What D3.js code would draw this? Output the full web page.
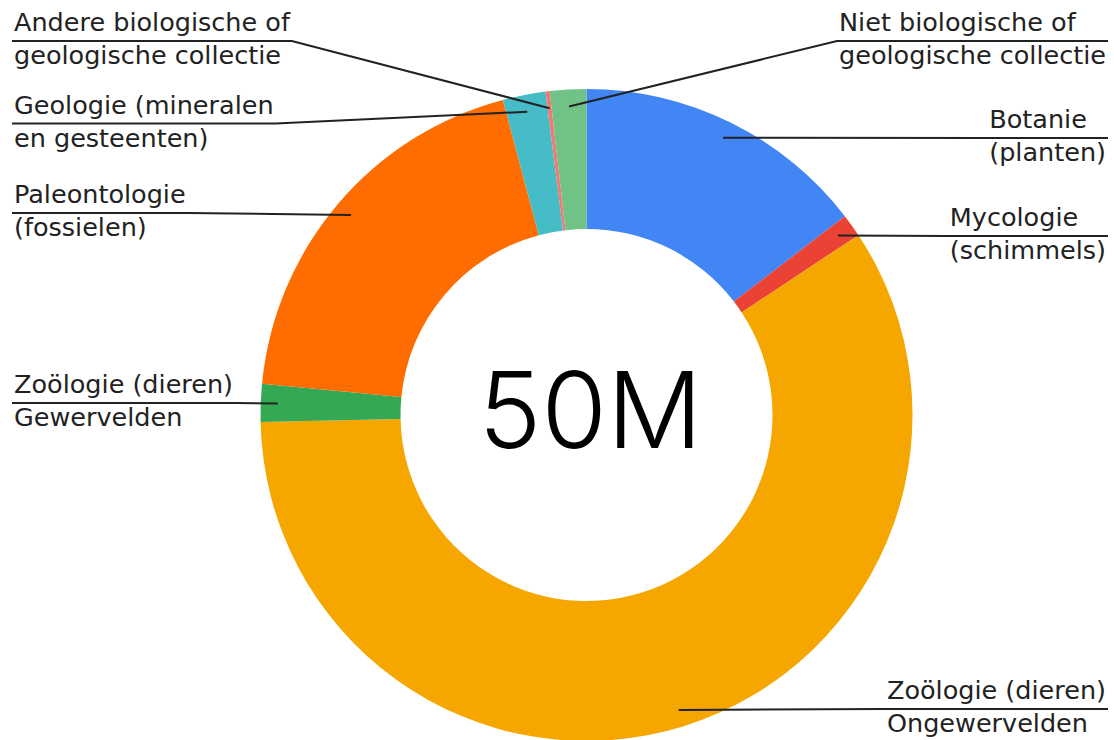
<!DOCTYPE html>
<html>
<head>
<meta charset="utf-8">
<script src="https://cdn.jsdelivr.net/npm/d3@7"></script>
<style>
  body { margin: 0; background: #fff; }
  text { font-family: 'DejaVu Sans', sans-serif; }
</style>
</head>
<body>
<div id="chart"></div>
<script>
// Collection sizes (millions of objects), clockwise from 12 o'clock
const categories = ['Botanie', 'Mycologie', 'Ongewervelden', 'Gewervelden',
  'Paleontologie', 'Geologie', 'Andere', 'Niet biologisch']
const labels = [
  ['Botanie', '(planten)'],
  ['Mycologie', '(schimmels)'],
  ['Zoölogie (dieren)', 'Ongewervelden'],
  ['Zoölogie (dieren)', 'Gewervelden'],
  ['Paleontologie', '(fossielen)'],
  ['Geologie (mineralen', 'en gesteenten)'],
  ['Andere biologische of', 'geologische collectie'],
  ['Niet biologische of', 'geologische collectie']
]
const values = [7.28, 0.57, 29.48, 0.94, 9.67, 1.06, 0.105, 0.90]
const colors = ['#4285F4', '#EA4335', '#F5A700', '#34A853',
  '#FF6D01', '#46BDC6', '#F07B72', '#71C287']
const totalLabel = '50M'

// label rows (leader line height), as laid out in the source
const labelY = [138, 236, 709, 403, 213, 123.5, 41, 41]

const width = 1114,
  height = 740,
  cx = 586.5,
  cy = 415,
  outerR = 326,
  innerR = 186,
  leaderR = 309

let svg = d3.select('#chart')
  .append('svg')
  .attr('width', width)
  .attr('height', height)

let pie = d3.pie().sort(null).value(d => d)
let arcs = pie(values)

let arc = d3.arc().innerRadius(innerR).outerRadius(outerR)
let leaderArc = d3.arc().innerRadius(leaderR).outerRadius(leaderR)

let g = svg.append('g').attr('transform', `translate(${cx},${cy})`)

g.selectAll('path.slice')
  .data(arcs)
  .enter()
  .append('path')
  .attr('class', 'slice')
  .attr('d', arc)
  .attr('fill', (d, i) => colors[i])

// centre total
svg.append('text')
  .attr('x', cx + 4)
  .attr('y', cy + 33)
  .attr('text-anchor', 'middle')
  .attr('font-size', 106)
  .attr('font-weight', 300)
  .style('font-family', 'Inter, sans-serif')
  .attr('fill', '#000')
  .text(totalLabel)

// labels + leader lines
let labelG = svg.append('g')

arcs.forEach((d, i) => {
  let mid = (d.startAngle + d.endAngle) / 2
  // slices just left of 12 o'clock still get a right-hand label
  let right = Math.sin(mid) > -0.08
  let ly = labelY[i]

  let t = labelG.append('text')
    .attr('font-size', 25.5)
    .attr('fill', '#222')

  let s1 = t.append('tspan').attr('y', ly - 10).text(labels[i][0])
  let s2 = t.append('tspan').attr('y', ly + 23).text(labels[i][1])

  let w = d3.max(t.selectAll('tspan').nodes(), n => n.getComputedTextLength())
  // block is right or left aligned, lines inside it start at the same x
  let tx = right ? 1106 - w : 14
  s1.attr('x', tx)
  s2.attr('x', tx)

  let p = leaderArc.centroid(d)
  let px = cx + p[0], py = cy + p[1]
  let elbow = right ? tx - 2 : tx + w + 2
  let end = right ? 1108 : 12

  labelG.append('path')
    .attr('d', d3.line()([[px, py], [elbow, ly], [end, ly]]))
    .attr('fill', 'none')
    .attr('stroke', '#222')
    .attr('stroke-width', 2)
})
</script>
</body>
</html>
